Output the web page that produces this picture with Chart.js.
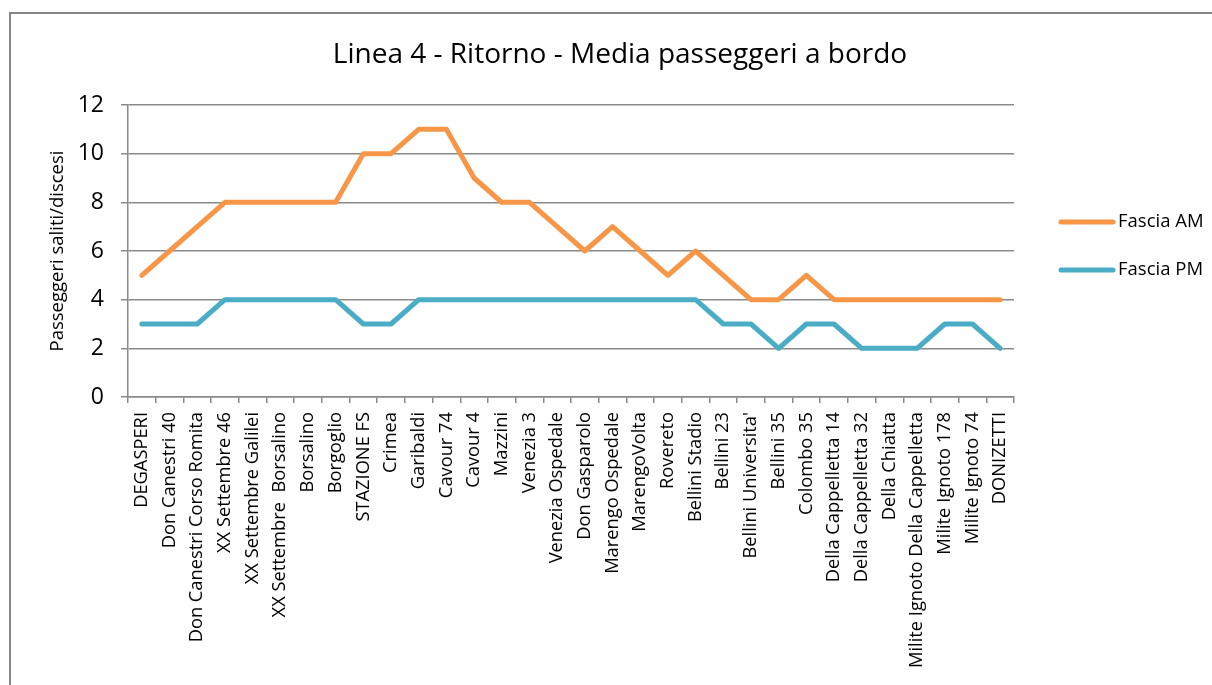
<!DOCTYPE html>
<html>
<head>
<meta charset="utf-8">
<script src="https://cdn.jsdelivr.net/npm/chart.js@4/dist/chart.umd.min.js"></script>
<style>
    html, body { margin: 0; padding: 0; background: #fff; overflow: hidden; }
    #frame {
        position: absolute; left: 9px; top: 12px;
        width: 1400px; height: 900px;
        border: 2px solid #878787;
    }
    #wrap { position: absolute; left: 0; top: 0; width: 1212px; height: 685px; }
</style>
</head>
<body>
<div id="frame"></div>
<div id="wrap"><canvas id="lineChart" width="1212" height="685"></canvas></div>
<script>
// ===== DATA =====
const stops = [
    'DEGASPERI', 'Don Canestri 40', 'Don Canestri Corso Romita', 'XX Settembre 46',
    'XX Settembre Galilei', 'XX Settembre  Borsalino', 'Borsalino', 'Borgoglio',
    'STAZIONE FS', 'Crimea', 'Garibaldi', 'Cavour 74', 'Cavour 4', 'Mazzini',
    'Venezia 3', 'Venezia Ospedale', 'Don Gasparolo', 'Marengo Ospedale',
    'MarengoVolta', 'Rovereto', 'Bellini Stadio', 'Bellini 23', "Bellini Universita'",
    'Bellini 35', 'Colombo 35', 'Della Cappelletta 14', 'Della Cappelletta 32',
    'Della Chiatta', 'Milite Ignoto Della Cappelletta', 'Milite Ignoto 178',
    'Milite Ignoto 74', 'DONIZETTI'
];
const fasciaAM = [5, 6, 7, 8, 8, 8, 8, 8, 10, 10, 11, 11, 9, 8, 8, 7, 6, 7, 6, 5, 6, 5, 4, 4, 5, 4, 4, 4, 4, 4, 4, 4];
const fasciaPM = [3, 3, 3, 4, 4, 4, 4, 4, 3, 3, 4, 4, 4, 4, 4, 4, 4, 4, 4, 4, 4, 3, 3, 2, 3, 3, 2, 2, 2, 3, 3, 2];
const yTicks = [0, 2, 4, 6, 8, 10, 12];

const chartTitle = 'Linea 4 - Ritorno - Media passeggeri a bordo';
const yTitle = 'Passeggeri saliti/discesi';
const seriesNames = ['Fascia AM', 'Fascia PM'];
const seriesColors = ['#F79646', '#4BACC6'];

const FONT = "'Open Sans', 'Noto Sans', sans-serif";
const GRID = '#8a8a8a';

// ===== TITLE + LEGEND (drawn on canvas) =====
const extrasPlugin = {
    id: 'extras',
    afterDraw: function(chart) {
        const c = chart.ctx;
        c.save();
        c.fillStyle = '#000';
        c.font = '28px ' + FONT;
        c.textAlign = 'center';
        c.textBaseline = 'middle';
        c.fillText(chartTitle, 620, 55);

        c.font = '18.5px ' + FONT;
        c.textAlign = 'left';
        seriesNames.forEach(function(name, i) {
            const y = 222 + i * 48;
            c.strokeStyle = seriesColors[i];
            c.lineWidth = 5;
            c.lineCap = 'round';
            c.beginPath();
            c.moveTo(1061, y);
            c.lineTo(1113, y);
            c.stroke();
            c.fillText(name, 1118, y);
        });
        c.restore();
    }
};

// ===== CHART =====
new Chart(document.getElementById('lineChart'), {
    type: 'line',
    data: {
        labels: stops,
        datasets: [
            {
                label: seriesNames[0],
                data: fasciaAM,
                borderColor: seriesColors[0],
                backgroundColor: seriesColors[0],
                borderWidth: 5,
                borderJoinStyle: 'round',
                borderCapStyle: 'round',
                pointRadius: 0,
                tension: 0
            },
            {
                label: seriesNames[1],
                data: fasciaPM,
                borderColor: seriesColors[1],
                backgroundColor: seriesColors[1],
                borderWidth: 5,
                borderJoinStyle: 'round',
                borderCapStyle: 'round',
                pointRadius: 0,
                tension: 0
            }
        ]
    },
    plugins: [extrasPlugin],
    options: {
        responsive: false,
        animation: false,
        layout: {
            padding: { left: 0, top: 105, right: 198, bottom: 0 }
        },
        plugins: {
            legend: { display: false },
            title: { display: false },
            tooltip: { enabled: false }
        },
        scales: {
            x: {
                offset: true,
                grid: {
                    offset: true,
                    drawOnChartArea: false,
                    drawTicks: true,
                    tickLength: 6,
                    color: GRID,
                    lineWidth: 1.5
                },
                border: { color: GRID, width: 1.5 },
                ticks: {
                    autoSkip: false,
                    maxRotation: 90,
                    minRotation: 90,
                    padding: 9,
                    color: '#000',
                    font: { family: FONT, size: 18.3 }
                },
                afterFit: function(scale) { scale.height = 288; }
            },
            y: {
                min: 0,
                max: 12,
                afterBuildTicks: function(scale) {
                    scale.ticks = yTicks.map(function(v) { return { value: v }; });
                },
                grid: {
                    color: GRID,
                    lineWidth: 1.5,
                    tickLength: 7
                },
                border: { color: GRID, width: 1.5 },
                ticks: {
                    padding: 17,
                    color: '#000',
                    font: { family: FONT, size: 23 }
                },
                title: {
                    display: true,
                    text: yTitle,
                    color: '#000',
                    font: { family: FONT, size: 18.5 },
                    padding: { top: 47, bottom: 0 }
                },
                afterFit: function(scale) { scale.width = 128; }
            }
        }
    }
});
</script>
</body>
</html>
